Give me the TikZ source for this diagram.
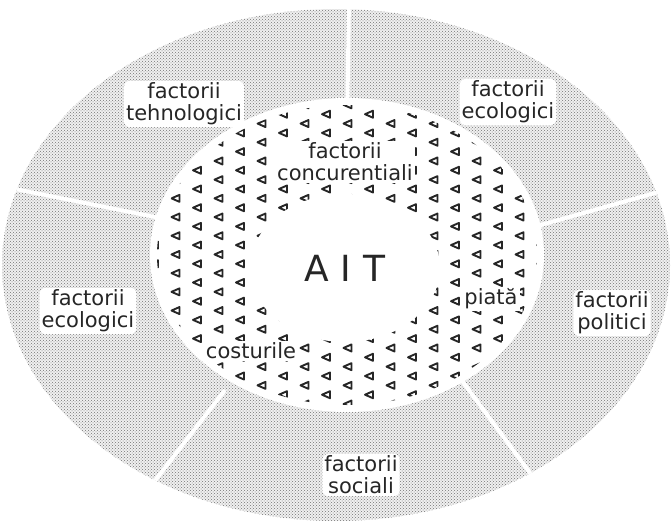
\documentclass[tikz,border=0pt]{standalone}
\usepackage{fontspec}
\setmainfont{DejaVu Sans}
\usetikzlibrary{patterns}

\begin{document}
\begin{tikzpicture}[x=1pt,y=-1pt,
  factorbox/.style={fill=white,rounded corners=6pt,inner sep=2pt,align=center,
    font=\fontsize{21}{22}\selectfont,text=black!85},
  innerbox/.style={fill=white,inner sep=2pt,align=center,
    font=\fontsize{21}{22}\selectfont,text=black!85},
  ringline/.style={white,line width=4pt},
  trimark/.style={draw=black!85,line width=1.9pt,line join=round}]
  \useasboundingbox (0,0) rectangle (672,522);
  \coordinate (ring) at (336,265);
  \coordinate (mid) at (347,255);
  \coordinate (core) at (345,268);

  % outer ring of factors
  \fill[black!6] (ring) ellipse [x radius=334, y radius=256];
  \fill[pattern=crosshatch dots,pattern color=black!55] (ring) ellipse [x radius=334, y radius=256];
  \begin{scope}
    \clip (ring) ellipse [x radius=334, y radius=256];
    \draw[ringline] (347,130) -- (349,0);
    \draw[ringline] (530,228) -- (680,186);
    \draw[ringline] (460,378) -- (550,500);
    \draw[ringline] (225,390) -- (140,500);
    \draw[ringline] (170,220) -- (-10,184);
  \end{scope}

  % middle ring with triangles
  \fill[white] (mid) ellipse [x radius=197, y radius=157];
  \begin{scope}
    \clip (mid) ellipse [x radius=190, y radius=150];
    \foreach \c in {0,...,19}{
      \foreach \r in {0,...,18}{
        \pgfmathsetmacro{\tx}{158+21.5*\c}
        \pgfmathsetmacro{\ty}{92+18.7*\r+9.35*mod(\c,2)}
        \draw[trimark] (\tx,\ty) -- ++(-8,3.5) -- ++(8,3.5) -- cycle;
      }
    }
  \end{scope}
  \fill[white] (core) ellipse [x radius=95, y radius=74];

  \node[font=\fontsize{36}{40}\selectfont,text=black!85] (ait) at (core) {A I T};
  \node[innerbox] (conc) at (345,162) {factorii\\concurentiali};
  \node[innerbox] (piata) at (491,299) {piată};
  \node[innerbox] (cost) at (251,351) {costurile};

  \node[factorbox] (tehno) at (184,104) {factorii\\tehnologici};
  \node[factorbox] (ecoR) at (508,102) {factorii\\ecologici};
  \node[factorbox] (ecoL) at (88,311) {factorii\\ecologici};
  \node[factorbox] (polit) at (612,313) {factorii\\politici};
  \node[factorbox] (soc) at (361,475) {factorii\\sociali};
\end{tikzpicture}
\end{document}
